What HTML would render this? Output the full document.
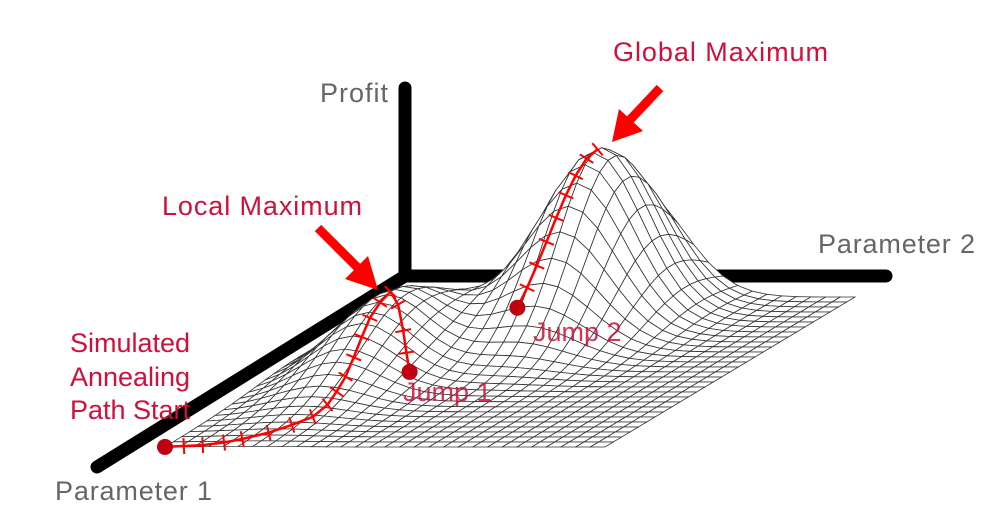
<!DOCTYPE html>
<html><head><meta charset="utf-8"><style>
html,body{margin:0;padding:0;background:#fff;}
svg{display:block;font-family:"Liberation Sans",sans-serif;}
</style></head><body>
<svg id="c" width="992" height="511" viewBox="0 0 992 511">
<g stroke="#000" stroke-width="13" stroke-linecap="round">
<line x1="405" y1="88" x2="405" y2="276"/>
<line x1="405" y1="276" x2="886" y2="276"/>
<line x1="405" y1="276" x2="97" y2="467"/>
</g>
<g id="mesh"></g>
<g id="path"></g>
<g font-size="27">
<text x="320" y="102" fill="#666" textLength="68">Profit</text>
<text x="818" y="253" fill="#666" textLength="157">Parameter 2</text>
<text x="55" y="500" fill="#666" textLength="157">Parameter 1</text>
<text x="613" y="61" fill="#d0103a" textLength="215">Global Maximum</text>
<text x="162" y="215" fill="#d0103a" textLength="200">Local Maximum</text>
<text x="130" y="352" fill="#d0103a" text-anchor="middle">Simulated</text>
<text x="130" y="386" fill="#d0103a" text-anchor="middle">Annealing</text>
<text x="130" y="419" fill="#d0103a" text-anchor="middle">Path Start</text>
<text x="403" y="401" fill="#d0103a" opacity="0.85">Jump 1</text>
<text x="533" y="341" fill="#d0103a" opacity="0.85">Jump 2</text>
</g>
<g fill="#f00" stroke="#f00">
<line x1="318" y1="228" x2="358" y2="268" stroke-width="9"/>
<polygon points="378,290 345,279 368,256" stroke="none"/>
<line x1="660" y1="88" x2="628" y2="122" stroke-width="9"/>
<polygon points="612,142 619,109 643,131" stroke="none"/>
</g>
</svg>
<script>
// surface peaks: [u, v, height, sigmaU, sigmaV]
const peakU=[0.2,0.5];
const peakV=[0.45,0.15];
const peakH=[72,170];
const peakSU=[0.1,0.11];
const peakSV=[0.18,0.16];
// annealing path in (u,v)
const path1U=[0.0,0.04,0.08,0.12,0.15,0.19,0.22,0.245,0.25,0.245,0.24,0.23,0.22,0.21,0.205,0.2];
const path1V=[1.0,0.995,0.99,0.975,0.955,0.92,0.88,0.84,0.79,0.745,0.7,0.65,0.6,0.55,0.5,0.45];
const jump1U=[0.2,0.24,0.28,0.31,0.34];
const jump1V=[0.45,0.49,0.54,0.58,0.62];
const path2U=[0.46,0.465,0.47,0.475,0.48,0.485,0.49,0.495,0.5];
const path2V=[0.4,0.37,0.34,0.31,0.28,0.25,0.22,0.185,0.15];
const N=30;
const NS='http://www.w3.org/2000/svg';
function h(u,v){let s=0;for(let i=0;i<peakU.length;i++){const du=(u-peakU[i])/peakSU[i],dv=(v-peakV[i])/peakSV[i];s+=peakH[i]*Math.exp(-(du*du+dv*dv)/2);}return s;}
function P(u,v){return [415+440*u-250*v, 297+150*v-h(u,v)];}
const mesh=document.getElementById('mesh');
for(let j=0;j<N;j++){for(let i=0;i<N;i++){
 const u0=i/N,u1=(i+1)/N,v0=j/N,v1=(j+1)/N;
 const pts=[P(u0,v0),P(u1,v0),P(u1,v1),P(u0,v1)].map(p=>p[0].toFixed(1)+','+p[1].toFixed(1)).join(' ');
 const q=document.createElementNS(NS,'polygon');
 
 
 q.setAttribute('points',pts);q.setAttribute('fill','#fff');q.setAttribute('stroke','#333');q.setAttribute('stroke-width','0.8');
 mesh.appendChild(q);
}}
const pg=document.getElementById('path');
function drawPath(us,vs,name){
 const pts=us.map((u,k)=>P(u,vs[k]));
 const pl=document.createElementNS(NS,'polyline');
 
 
 pl.setAttribute('points',pts.map(p=>p.join(',')).join(' '));
 pl.setAttribute('fill','none');pl.setAttribute('stroke','#f00');pl.setAttribute('stroke-width','2.5');
 pg.appendChild(pl);
 for(let k=1;k<pts.length;k++){
  const a=pts[k-1],b=pts[k];const dx=b[0]-a[0],dy=b[1]-a[1];const L=Math.hypot(dx,dy)||1;
  const nx=-dy/L*8,ny=dx/L*8;
  const t=document.createElementNS(NS,'line');
  
  
  t.setAttribute('x1',b[0]-nx);t.setAttribute('y1',b[1]-ny);t.setAttribute('x2',b[0]+nx);t.setAttribute('y2',b[1]+ny);
  t.setAttribute('stroke','#f00');t.setAttribute('stroke-width','2');
  pg.appendChild(t);
 }
 return pts;
}
const p1=drawPath(path1U,path1V,'path-to-local-max');
const pj=drawPath(jump1U,jump1V,'path-jump-1');
const p2=drawPath(path2U,path2V,'path-to-global-max');
function dot(p,name){const c=document.createElementNS(NS,'circle');
 
 
 c.setAttribute('cx',p[0]);c.setAttribute('cy',p[1]);c.setAttribute('r','8');c.setAttribute('fill','#c00010');pg.appendChild(c);}
dot(p1[0],'start-dot');
dot(pj[pj.length-1],'jump-1-dot');
dot(p2[0],'jump-2-dot');
</script>
</body></html>
